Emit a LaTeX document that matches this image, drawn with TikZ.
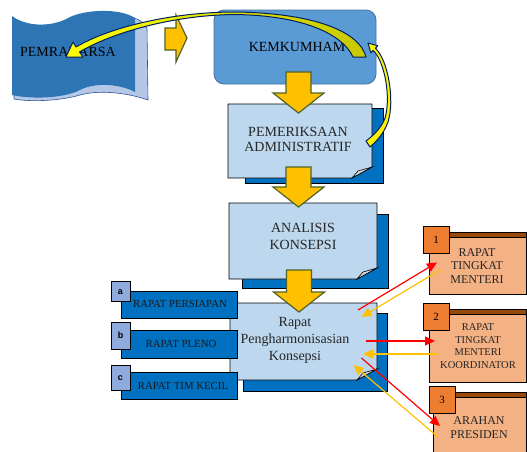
\documentclass[tikz,border=0pt]{standalone}
\usepackage{fontspec}
\setmainfont{Liberation Serif}
\newfontfamily\sansf{Liberation Sans}
\usetikzlibrary{arrows.meta}
\definecolor{kemblue}{HTML}{5B9BD5}
\definecolor{kemedge}{HTML}{41719C}
\definecolor{lightbox}{HTML}{BDD7EE}
\definecolor{shadowblue}{HTML}{0070C0}
\definecolor{flagblue}{HTML}{2E75B6}
\definecolor{flagback}{HTML}{B4C7E7}
\definecolor{flagedge}{HTML}{2F5597}
\definecolor{gold}{HTML}{FFC000}
\definecolor{olive}{HTML}{4F6228}
\definecolor{navy}{HTML}{002060}
\definecolor{tagblue}{HTML}{8FAADC}
\definecolor{peach}{HTML}{F4B183}
\definecolor{orangesq}{HTML}{ED7D31}
\definecolor{brownbar}{HTML}{984807}
\definecolor{darkyellow}{HTML}{C8C800}
\tikzset{
  blockarrow/.style={fill=gold, draw=olive, line width=1.2pt, line join=miter},
  docbox/.style={fill=lightbox, draw=black, line width=0.8pt},
  docshadow/.style={fill=shadowblue, draw=black, line width=0.8pt},
  foldstyle/.style={fill=gray!30, draw=black, line width=0.6pt},
  doctext/.style={font=\fontsize{14}{15}\selectfont, align=center, text=black!85, inner sep=0pt},
  bluebar/.style={fill=shadowblue, draw=black, line width=0.8pt},
  tagsq/.style={fill=tagblue, draw=black, line width=0.8pt},
  tagletter/.style={font=\sansf\bfseries\fontsize{9}{10}\selectfont, inner sep=0pt},
  bartext/.style={font=\fontsize{10.8}{12}\selectfont, text=black!90, inner sep=0pt},
  peachbox/.style={fill=peach, draw=black, line width=0.8pt},
  orangebox/.style={fill=orangesq, draw=black, line width=0.8pt},
  brownstrip/.style={fill=brownbar, draw=black, line width=0.5pt},
  numtext/.style={font=\fontsize{11}{12}\selectfont, inner sep=0pt},
  redarr/.style={draw=red, line width=1.2pt, -{Triangle[length=10pt,width=9pt]}},
  goldarr/.style={draw=gold, line width=1.2pt, -{Triangle[length=10pt,width=9pt]}},
  curvearrow/.style={draw=navy, line width=1pt, line join=round},
}
\newcommand\docshape[8]{%
  \path[docshadow] (#5,#6) rectangle (#7,#8);
  \path[docbox] (#1,#2) -- (#3,#2) -- (#3,#4-11) -- (#3-20,#4) -- (#1,#4) -- cycle;
  \path[foldstyle] (#3-20,#4) -- (#3-14,#4-7) -- (#3,#4-11) -- cycle;}
\newcommand\blockdown[3]{%
  \path[blockarrow] (#1-12.5,#2) -- (#1+12.5,#2) -- (#1+12.5,#3-20) -- (#1+25.5,#3-20)
    -- (#1,#3) -- (#1-25.5,#3-20) -- (#1-12.5,#3-20) -- cycle;}
\begin{document}
\begin{tikzpicture}[x=1pt,y=-1pt]
\useasboundingbox (0,0) rectangle (527,451);
\clip (0,0) rectangle (527,451);

% PEMRAKARSA flag
\path[fill=flagback, draw=flagedge, line width=0.6pt] (128,17) .. controls (138,18) and (144,22) .. (147,28)
  -- (148,100) .. controls (125,92) and (98,90) .. (80,95) .. controls (60,101) and (30,102) .. (14,99) -- (14,90) -- cycle;
\path[fill=flagblue] (12,16) .. controls (25,26) and (50,28) .. (68,18) .. controls (85,9) and (120,8) .. (135,18)
  -- (135,92) .. controls (120,84) and (95,82) .. (80,90) .. controls (62,99) and (30,99) .. (12,95) -- cycle;
\node[doctext, text=black] (pemrakarsa) at (68,52) {PEMRAKARSA};

% chevron
\path[blockarrow] (165,28) -- (176,28) -- (176,15) -- (187,38) -- (176,62) -- (176,50) -- (165,50) -- cycle;

% KEMKUMHAM
\node[fill=kemblue, draw=kemedge, line width=0.8pt, rounded corners=10pt,
      minimum width=162pt, minimum height=74pt] (kem) at (295,47) {};
\node[doctext, text=black] (kemtext) at (297,47) {KEMKUMHAM};

% PEMERIKSAAN ADMINISTRATIF
\docshape{228}{104}{372}{178}{245}{108}{383}{183}
\node[doctext] (pem) at (298,139) {PEMERIKSAAN\\ADMINISTRATIF};
\blockdown{298.5}{72}{113}

% ANALISIS KONSEPSI
\docshape{229}{203}{377}{279}{242}{214}{388}{288}
\node[doctext, font=\fontsize{14}{17}\selectfont] (ana) at (303,236.5) {ANALISIS\\KONSEPSI};
\blockdown{298.5}{167}{207}

% Rapat Pengharmonisasian Konsepsi
\docshape{230}{303}{377}{380}{243}{313}{387}{391}
\node[doctext, font=\fontsize{14}{17}\selectfont] (rap) at (295,340) {Rapat\\Pengharmonisasian\\Konsepsi};
\blockdown{299}{270}{312}

% left bars
\path[bluebar] (121,291) rectangle (237,318);
\path[tagsq] (111,281) rectangle (130,301);
\node[tagletter] (ta) at (120.5,292.5) {a};
\node[bartext] (rpa) at (180,304) {RAPAT PERSIAPAN};
\path[bluebar] (121,330) rectangle (237,358);
\path[tagsq] (111,322) rectangle (130,349);
\node[tagletter] (tb) at (120.5,335.5) {b};
\node[bartext] (rpl) at (181,344) {RAPAT PLENO};
\path[bluebar] (121,372) rectangle (237,399);
\path[tagsq] (111,365) rectangle (130,390);
\node[tagletter] (tc) at (120.5,378) {c};
\node[bartext] (rtk) at (183,386) {RAPAT TIM KECIL};

% right boxes
\path[peachbox] (429,232) rectangle (526,294);
\path[brownstrip] (449,232) rectangle (526,237);
\path[orangebox] (423,226) rectangle (449,253);
\node[numtext] (n1) at (436,239.5) {1};
\node[doctext, font=\fontsize{12}{13.5}\selectfont] (m1) at (477,266) {RAPAT\\TINGKAT\\MENTERI};

\path[peachbox] (429,309) rectangle (526,382);
\path[brownstrip] (449,309) rectangle (526,314);
\path[orangebox] (423,303) rectangle (449,330);
\node[numtext] (n2) at (436,316.5) {2};
\node[doctext, font=\fontsize{10.5}{12.7}\selectfont] (m2) at (478,346) {RAPAT\\TINGKAT\\MENTERI\\KOORDINATOR};

\path[peachbox] (433,392) rectangle (526,470);
\path[brownstrip] (455,392) rectangle (526,397);
\path[orangebox] (429,386) rectangle (455,413);
\node[numtext] (n3) at (442,399.5) {3};
\node[doctext, font=\fontsize{12}{14}\selectfont] (m3) at (479,428) {ARAHAN\\PRESIDEN};

% red / gold connectors
\coordinate (r1s) at (358,310); \coordinate (r1e) at (437,262.5);
\coordinate (g1s) at (440,270); \coordinate (g1e) at (361.5,317);
\coordinate (r2s) at (366,341); \coordinate (r2e) at (435,341);
\coordinate (g2s) at (438,354); \coordinate (g2e) at (363,354);
\coordinate (r3s) at (361.5,358); \coordinate (r3e) at (440,426);
\coordinate (g3s) at (438,437); \coordinate (g3e) at (353.5,365);
\draw[redarr] (r1s) -- (r1e);
\draw[goldarr] (g1s) -- (g1e);
\draw[redarr] (r2s) -- (r2e);
\draw[goldarr] (g2s) -- (g2e);
\draw[redarr] (r3s) -- (r3e);
\draw[goldarr] (g3s) -- (g3e);

% curved arrow KEMKUMHAM -> PEMRAKARSA
\path[curvearrow, left color=yellow, right color=darkyellow]
  (366,57) .. controls (360,32) and (315,13) .. (235,12) .. controls (175,12) and (112,26) .. (76,47)
  -- (73,42) -- (66,57) -- (83,57) -- (79.5,52)
  .. controls (113,32) and (175,15) .. (235,14.5) .. controls (305,15.5) and (343,35) .. (353,57) -- cycle;

% curved arrow PEMERIKSAAN -> KEMKUMHAM
\path[curvearrow, fill=yellow]
  (375.4,48.2) .. controls (388,60) and (395,100) .. (388,122) .. controls (384,133) and (377,141) .. (370,147)
  -- (366,141) .. controls (374,135) and (382,127) .. (385,118) .. controls (391,98) and (385,62) .. (373.2,50.4)
  -- (370.8,52.8) -- (368,43) -- (377.8,45.8) -- cycle;
\end{tikzpicture}
\end{document}
